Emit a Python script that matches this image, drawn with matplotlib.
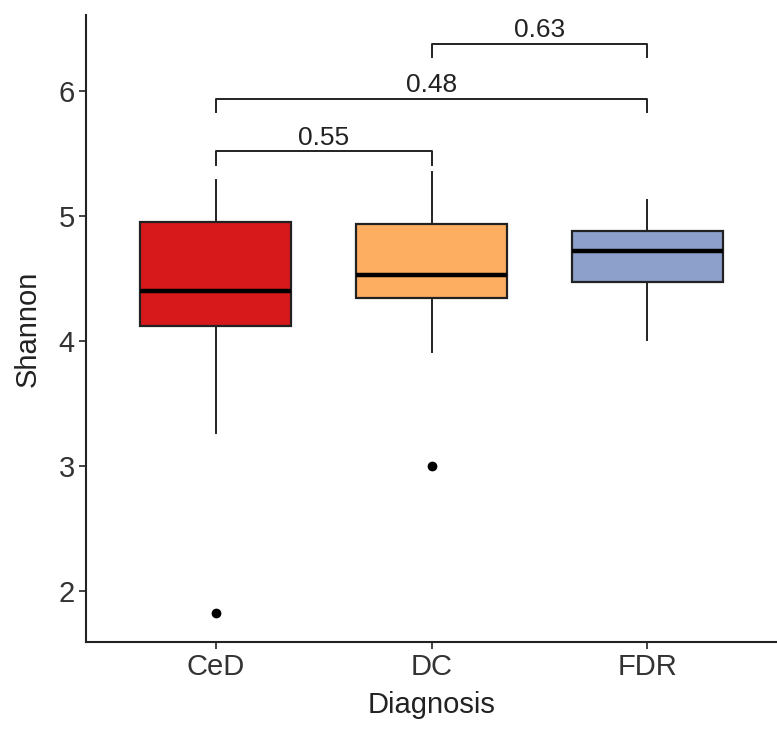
import matplotlib
matplotlib.use("Agg")
from matplotlib import pyplot as plt

plt.rcParams['font.family'] = ['Liberation Sans', 'DejaVu Sans']

groups = ['CeD', 'DC', 'FDR']
colors = ['#D7191C', '#FDAE61', '#8DA0CB']
whislo = [3.26, 3.91, 4.01]
q1 = [4.12, 4.34, 4.47]
med = [4.40, 4.53, 4.72]
q3 = [4.95, 4.94, 4.88]
whishi = [5.29, 5.35, 5.13]
fliers = [[1.82], [3.00], []]

# pairwise comparisons: (left group, right group, bracket height, label)
pairs = [(1, 2, 5.52, '0.55'), (1, 3, 5.94, '0.48'), (2, 3, 6.38, '0.63')]

stats = []
for i, g in enumerate(groups):
    stats.append(dict(label=g, whislo=whislo[i], q1=q1[i], med=med[i],
                      q3=q3[i], whishi=whishi[i], fliers=fliers[i]))

fig = plt.figure(figsize=(7.77, 7.32), dpi=100)
ax = fig.add_axes([0.1107, 0.123, 0.8893, 0.8566])

bp = ax.bxp(stats, positions=[1, 2, 3], widths=0.7, patch_artist=True,
            showcaps=False,
            boxprops=dict(linewidth=1.6, edgecolor='#222222'),
            medianprops=dict(color='black', linewidth=3.2),
            whiskerprops=dict(color='#222222', linewidth=1.4),
            flierprops=dict(marker='o', markerfacecolor='black',
                            markeredgecolor='black', markersize=6))
for patch, c in zip(bp['boxes'], colors):
    patch.set_facecolor(c)

for x1, x2, h, lab in pairs:
    ax.plot([x1, x1, x2, x2], [h - 0.11, h, h, h - 0.11], color='#222222',
            linewidth=1.4)
    ax.text((x1 + x2) / 2, h + 0.01, lab, ha='center', va='bottom',
            fontsize=19, color='#222222')

ax.set_xlim(0.4, 3.6)
ax.set_ylim(1.59, 6.61)
ax.set_yticks([2, 3, 4, 5, 6])
ax.set_xlabel('Diagnosis', fontsize=21, color='#222222', labelpad=7)
ax.set_ylabel('Shannon', fontsize=21, color='#222222', labelpad=12)
ax.tick_params(axis='both', labelsize=21, colors='#222222', length=5,
               width=1.2, labelcolor='#333333', pad=3)
ax.spines['top'].set_visible(False)
ax.spines['right'].set_visible(False)
for s in ['left', 'bottom']:
    ax.spines[s].set_linewidth(1.5)
    ax.spines[s].set_color('#222222')

fig.savefig('out.png', dpi=100)
